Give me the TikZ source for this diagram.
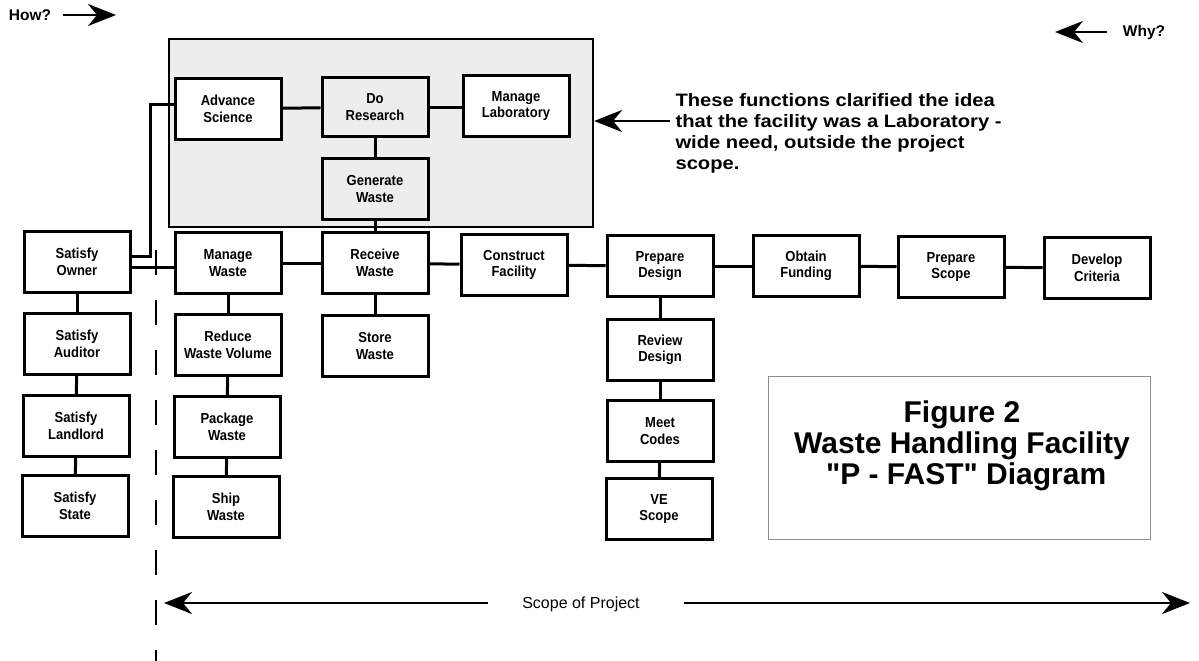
\documentclass[tikz,border=0pt]{standalone}
\usepackage{fontspec}
\setmainfont{Liberation Sans}
\newfontfamily\narrowfont[FakeStretch=0.9]{Liberation Sans}
\newfontfamily\widefont[FakeStretch=1.12]{Liberation Sans}
\usetikzlibrary{arrows.meta}

\tikzset{
  fn/.style={rectangle,draw,line width=3pt,fill=white,minimum width=106pt,minimum height=61pt,inner sep=1pt,align=center,font=\narrowfont\bfseries\fontsize{14.5}{16.5}\selectfont},
  link/.style={line width=3pt},
  bigarrow/.style={line width=2.6pt,-{Stealth[length=28pt,width=22pt,inset=9pt]}},
}

\begin{document}
\begin{tikzpicture}[x=1pt,y=-1pt]
  \useasboundingbox (0,0) rectangle (1199,661);

  \node[draw,line width=2.2pt,fill=black!7,minimum width=424pt,minimum height=188pt] (0) at (381,133) {}; % Laboratory-wide functions

  \node[fn] (1) at (77,262) {Satisfy\\Owner};
  \node[fn] (2) at (228,109) {Advance\\Science};
  \node[fn,fill=none,minimum height=59pt] (3) at (375,107) {Do\\Research};
  \node[fn] (4) at (516,106) {Manage\\Laboratory};
  \node[fn,fill=none] (5) at (375,189) {Generate\\Waste};
  \node[fn] (6) at (228,263) {Manage\\Waste};
  \node[fn] (7) at (375,263) {Receive\\Waste};
  \node[fn] (8) at (514,265) {Construct\\Facility};
  \node[fn] (9) at (660,266) {Prepare\\Design};
  \node[fn] (10) at (806,266) {Obtain\\Funding};
  \node[fn] (11) at (951,267) {Prepare\\Scope};
  \node[fn] (12) at (1097,268) {Develop\\Criteria};
  \node[fn] (13) at (77,344) {Satisfy\\Auditor};
  \node[fn] (14) at (76,426) {Satisfy\\Landlord};
  \node[fn] (15) at (75,506) {Satisfy\\State};
  \node[fn] (16) at (228,345) {Reduce\\Waste Volume};
  \node[fn] (17) at (227,427) {Package\\Waste};
  \node[fn] (18) at (226,507) {Ship\\Waste};
  \node[fn] (19) at (375,346) {Store\\Waste};
  \node[fn] (20) at (660,350) {Review\\Design};
  \node[fn] (21) at (660,431) {Meet\\Codes};
  \node[fn] (22) at (659,509) {VE\\Scope};

  \node[draw=black!45,line width=1pt,minimum width=382pt,minimum height=163pt] (23) at (959,458) {}; % figure title box
  \node[align=center,font=\bfseries\fontsize{30}{31}\selectfont] (23t) at (962,446) {Figure 2\\Waste Handling Facility\\ \ \textquotedbl P - FAST\textquotedbl\ Diagram};

  \node[anchor=north west,align=left,font=\widefont\bfseries\fontsize{18}{21}\selectfont] (24) at (672,90) {These functions clarified the idea\\that the facility was a Laboratory -\\wide need, outside the project\\scope.};

  \node[font=\bfseries\fontsize{15.5}{17}\selectfont] (25) at (30,15) {How?};
  \node[font=\bfseries\fontsize{15.5}{17}\selectfont] (26) at (1144,32) {Why?};
  \node[font=\fontsize{16}{18}\selectfont] (27) at (581,604) {Scope of Project};

  \coordinate (h1) at (63,15);
  \coordinate (h2) at (116,15);
  \coordinate (w1) at (1107,32);
  \coordinate (w2) at (1055,32);
  \coordinate (n1) at (670,121);
  \coordinate (s1) at (488,603);
  \coordinate (s2) at (164,603);
  \coordinate (s3) at (684,603);
  \coordinate (s4) at (1190,603);

  % How / Why arrows
  \draw[bigarrow] (h1) -- (h2);
  \draw[bigarrow] (w1) -- (w2);
  \draw[bigarrow] (n1) -- (n1 -| 0.east);
  \draw[bigarrow] (s1) -- (s2);
  \draw[bigarrow] (s3) -- (s4);

  % project boundary
  \draw[line width=2.8pt,dash pattern=on 25pt off 25pt] (156,250) -- (156,661);

  \draw[link] ([yshift=6pt]1.east) -- ++(19,0) |- ([yshift=5pt]2.west);
  \draw[link] ([yshift=-5pt]1.east) -- ([yshift=-4pt]6.west);
  \draw[link] (2) -- (3);
  \draw[link] (3.east) -- (4.west |- 3.east);
  \draw[link] (3) -- (5);
  \draw[link] (5) -- (7);
  \draw[link] (6) -- (7);
  \draw[link] (7) -- (8);
  \draw[link] (8) -- (9);
  \draw[link] (9) -- (10);
  \draw[link] (10) -- (11);
  \draw[link] (11) -- (12);
  \draw[link] (1) -- (13);
  \draw[link] (13) -- (14);
  \draw[link] (14) -- (15);
  \draw[link] (6) -- (16);
  \draw[link] (16) -- (17);
  \draw[link] (17) -- (18);
  \draw[link] (7) -- (19);
  \draw[link] (9) -- (20);
  \draw[link] (20) -- (21);
  \draw[link] (21) -- (22);

\end{tikzpicture}
\end{document}
